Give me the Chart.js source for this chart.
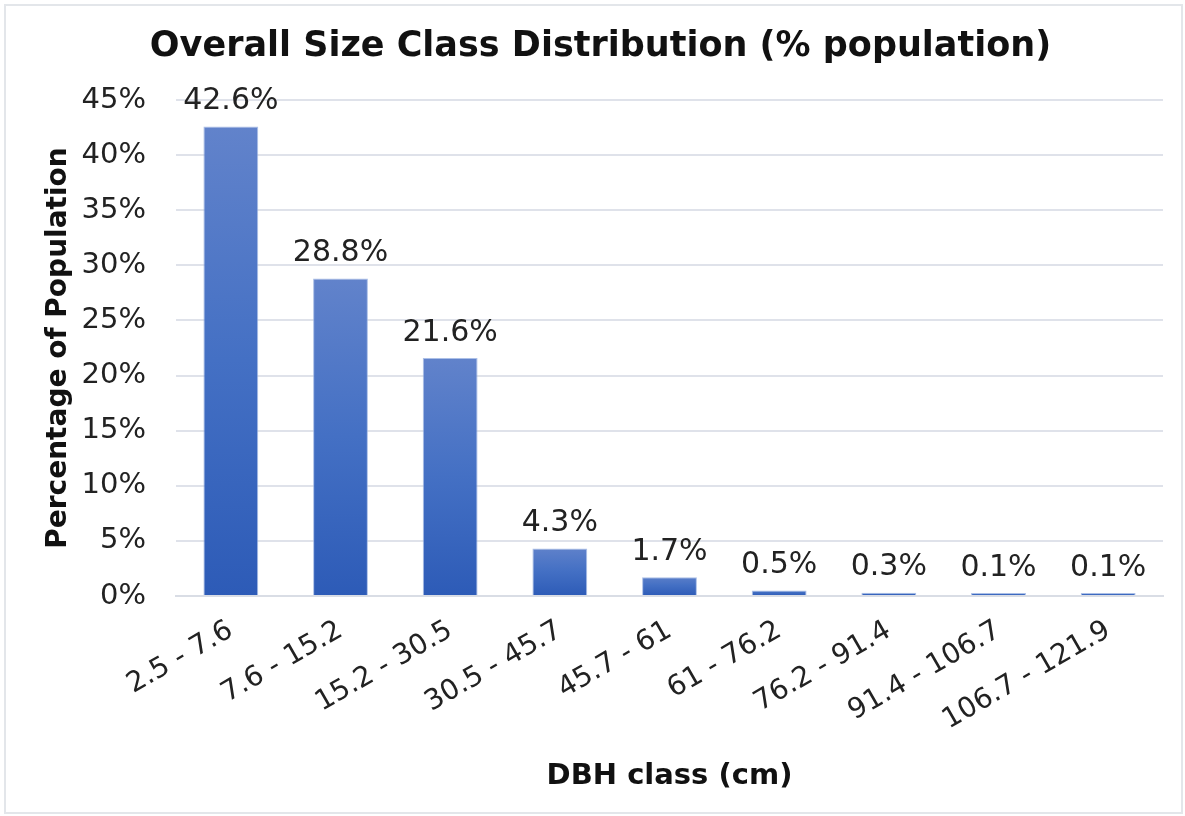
<!DOCTYPE html>
<html>
<head>
<meta charset="utf-8">
<script src="https://cdn.jsdelivr.net/npm/chart.js@4/dist/chart.umd.min.js"></script>
<style>
  html, body { margin: 0; padding: 0; background: #fff; }
  #wrap { position: absolute; left: 4px; top: 4px; width: 1175px; height: 806px; border: 2px solid #e3e6ea; }
  canvas { display: block; }
</style>
</head>
<body>
<div id="wrap"><canvas id="grafico" width="1175" height="806"></canvas></div>
<script>
// Datos del gráfico
const clases = ['2.5 - 7.6', '7.6 - 15.2', '15.2 - 30.5', '30.5 - 45.7', '45.7 - 61', '61 - 76.2', '76.2 - 91.4', '91.4 - 106.7', '106.7 - 121.9'];
const porcentajes = [42.6, 28.8, 21.6, 4.3, 1.7, 0.5, 0.3, 0.1, 0.1];
const ticksY = [0, 5, 10, 15, 20, 25, 30, 35, 40, 45];

const fuente = "'DejaVu Sans', Verdana, sans-serif";

// Degradado por barra: claro arriba, oscuro abajo
function colorBarra(context) {
  const chart = context.chart;
  if (!chart.chartArea) return '#4472c4';
  const y = chart.scales.y;
  const top = y.getPixelForValue(context.raw) - 3;
  const base = y.getPixelForValue(0);
  const g = chart.ctx.createLinearGradient(0, top, 0, base + 0.01);
  g.addColorStop(0, '#6283cb');
  g.addColorStop(0.5, '#4470c4');
  g.addColorStop(1, '#2d5bb7');
  return g;
}

// Etiquetas de valor encima de cada barra
const etiquetasValor = {
  id: 'etiquetasValor',
  afterDatasetsDraw(chart) {
    const ctx = chart.ctx;
    const meta = chart.getDatasetMeta(0);
    ctx.save();
    ctx.font = '30px ' + fuente;
    ctx.fillStyle = '#222';
    ctx.textAlign = 'center';
    ctx.textBaseline = 'bottom';
    meta.data.forEach((bar, i) => {
      ctx.fillText(porcentajes[i].toFixed(1) + '%', bar.x, bar.y - 10);
    });
    ctx.restore();
  }
};

new Chart(document.getElementById('grafico'), {
  type: 'bar',
  data: {
    labels: clases,
    datasets: [{
      data: porcentajes,
      backgroundColor: colorBarra,
      borderColor: 'rgba(150, 175, 225, 0.8)',
      borderWidth: 1,
      minBarLength: 3,
      categoryPercentage: 1,
      barPercentage: 0.5
    }]
  },
  options: {
    responsive: false,
    animation: false,
    layout: { padding: { top: 8, right: 18, left: 32, bottom: 14 } },
    plugins: {
      legend: { display: false },
      tooltip: { enabled: false },
      title: {
        display: true,
        text: 'Overall Size Class Distribution (% population)',
        color: '#111',
        font: { family: fuente, size: 35, weight: 'bold' },
        padding: { top: 12, bottom: 32 }
      }
    },
    scales: {
      x: {
        grid: { display: false },
        border: { color: '#d9dde5', width: 2 },
        ticks: {
          color: '#222',
          font: { family: fuente, size: 28 },
          minRotation: 30,
          maxRotation: 30,
          padding: 10
        },
        title: {
          display: true,
          text: 'DBH class (cm)',
          color: '#111',
          font: { family: fuente, size: 29, weight: 'bold' },
          padding: { top: 12 }
        }
      },
      y: {
        min: 0,
        max: 45,
        afterBuildTicks(axis) {
          axis.ticks = ticksY.map(v => ({ value: v }));
        },
        afterFit(axis) {
          axis.width = 138;
        },
        grid: { color: '#dfe2ea', lineWidth: 2, drawTicks: false },
        border: { display: false },
        ticks: {
          color: '#222',
          font: { family: fuente, size: 29 },
          padding: 30,
          callback: v => v + '%'
        },
        title: {
          display: true,
          text: 'Percentage of Population',
          color: '#111',
          font: { family: fuente, size: 28, weight: 'bold' },
          padding: { bottom: 4 }
        }
      }
    }
  },
  plugins: [etiquetasValor]
});
</script>
</body>
</html>
